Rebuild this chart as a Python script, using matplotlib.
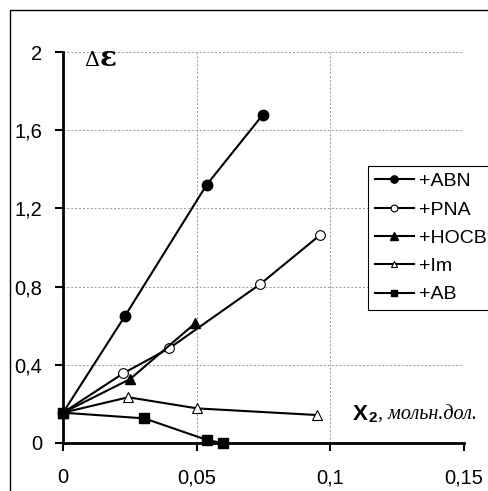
import matplotlib
matplotlib.use('Agg')
import matplotlib.pyplot as plt
from matplotlib.patches import Rectangle

plt.rcParams['font.family'] = ['Liberation Sans', 'DejaVu Sans']

# data
abn_x = [0, 0.0232, 0.0537, 0.0748]
abn_y = [0.155, 0.65, 1.32, 1.68]
pna_x = [0, 0.0226, 0.0397, 0.0738, 0.0960]
pna_y = [0.155, 0.357, 0.484, 0.813, 1.062]
hocb_x = [0, 0.0251, 0.0494]
hocb_y = [0.155, 0.327, 0.612]
im_x = [0, 0.0244, 0.0502, 0.0951]
im_y = [0.155, 0.234, 0.177, 0.143]
ab_x = [0, 0.0304, 0.0540, 0.0597]
ab_y = [0.155, 0.126, 0.015, 0.0]

xticks = [0, 0.05, 0.1, 0.15]
xtick_labels = ['0', '0,05', '0,1', '0,15']
yticks = [0, 0.4, 0.8, 1.2, 1.6, 2]
ytick_labels = ['0', '0,4', '0,8', '1,2', '1,6', '2']

fig = plt.figure(figsize=(4.88, 4.91), dpi=100)
ax = fig.add_axes([63/488, 1-443/491, 401/488, 391/491])

# outer frame (right and bottom sides are cut off in the original)
fig.patches.append(Rectangle((10/488, -0.1), 1.2, 1-10/491+0.1, transform=fig.transFigure,
                             fill=False, edgecolor='black', linewidth=1.0))

lw = 1.5
ax.plot(abn_x, abn_y, '-o', color='black', lw=lw, ms=7.5, mfc='black', label='+ABN', clip_on=False, zorder=3)
ax.plot(pna_x, pna_y, '-o', color='black', lw=lw, ms=7, mfc='white', mew=0.8, label='+PNA', clip_on=False, zorder=3)
ax.plot(hocb_x, hocb_y, '-^', color='black', lw=lw, ms=7.5, mfc='black', label='+HOCB', clip_on=False, zorder=3)
ax.plot(im_x, im_y, '-^', color='black', lw=lw, ms=7, mfc='white', mew=0.8, label='+Im', clip_on=False, zorder=3)
ax.plot(ab_x, ab_y, '-s', color='black', lw=lw, ms=6.5, mfc='black', label='+AB', clip_on=False, zorder=4)

ax.set_xlim(0, 0.15)
ax.set_ylim(0, 2)
ax.set_xticks(xticks)
ax.set_xticklabels(xtick_labels)
ax.set_yticks(yticks)
ax.set_yticklabels(ytick_labels)
ax.tick_params(axis='both', direction='out', length=6, width=1.5, labelsize=14.5, color='black')
ax.tick_params(axis='x', pad=12)
ax.tick_params(axis='y', pad=9)

ax.grid(True, linestyle=(0, (2, 2)), color='#999999', linewidth=0.7)
ax.set_axisbelow(True)
ax.spines['top'].set_visible(False)
ax.spines['right'].set_visible(False)
ax.spines['left'].set_linewidth(2)
ax.spines['bottom'].set_linewidth(2)

leg = ax.legend(loc='upper left', bbox_to_anchor=(0.761, 0.709), fontsize=14,
                frameon=True, fancybox=False, edgecolor='black', framealpha=1,
                handlelength=2.0, handletextpad=0.25, borderpad=0.35, labelspacing=0.55,
                borderaxespad=0, markerscale=0.7)
leg.get_frame().set_linewidth(0.8)

# axis captions
ax.text(0.0078, 1.928, 'Δ', fontsize=15, family=['DejaVu Serif'], va='baseline')
ax.text(0.0138, 1.928, 'ε', fontsize=20, family=['DejaVu Serif'], va='baseline', fontweight='bold')
ax.text(0.1085, 0.12, 'X', fontsize=16, fontweight='bold', va='baseline', ha='left')
ax.text(0.1143, 0.108, '2', fontsize=11, fontweight='bold', va='baseline')
ax.text(0.1180, 0.12, ', мольн.дол.', fontsize=14.5, style='italic',
        family=['Liberation Serif', 'DejaVu Serif'], va='baseline')

fig.savefig('out.png', dpi=100)
